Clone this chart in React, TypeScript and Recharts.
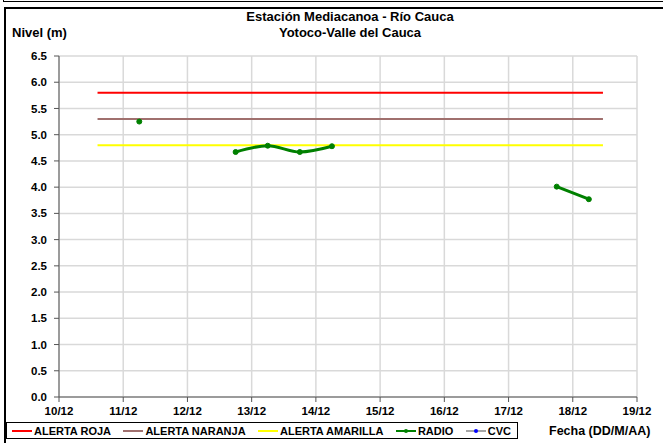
import React from 'react';
import { LineChart, Line, XAxis, YAxis, CartesianGrid } from 'recharts';

const dayLabels = ['10/12', '11/12', '12/12', '13/12', '14/12', '15/12', '16/12', '17/12', '18/12', '19/12'];
const dayTicks = [0, 1, 2, 3, 4, 5, 6, 7, 8, 9];
const levelTicks = [0, 0.5, 1, 1.5, 2, 2.5, 3, 3.5, 4, 4.5, 5, 5.5, 6, 6.5];

const alertX = [0.6, 8.47];
const alertaRoja = [5.8, 5.8];
const alertaNaranja = [5.3, 5.3];
const alertaAmarilla = [4.8, 4.8];

const radioX = [1.25, 2, 2.75, 3.25, 3.75, 4.25, 6, 7.75, 8.25];
const radioY: (number | null)[] = [5.25, null, 4.67, 4.79, 4.67, 4.78, null, 4.01, 3.77];

const zip = (xs: number[], ys: (number | null)[]) => xs.map((x, i) => ({ x, y: ys[i] }));

const rojaData = zip(alertX, alertaRoja);
const naranjaData = zip(alertX, alertaNaranja);
const amarillaData = zip(alertX, alertaAmarilla);
const radioData = zip(radioX, radioY);

const FONT = '"Liberation Sans", Arial, sans-serif';

const legendItems = [
  { name: 'ALERTA ROJA', color: '#ff0000', dot: null as string | null },
  { name: 'ALERTA NARANJA', color: '#a0706e', dot: null },
  { name: 'ALERTA AMARILLA', color: '#ffff00', dot: null },
  { name: 'RADIO', color: '#008000', dot: '#008000' },
  { name: 'CVC', color: '#a6a6a6', dot: '#0000ff' },
];

export default function App() {
  return (
    <div style={{ position: 'absolute', left: 0, top: 0, width: 663, height: 443, background: '#fff', fontFamily: FONT, overflow: 'hidden' }}>
      {/* frame */}
      <div style={{ position: 'absolute', left: 3, top: -2, width: 680, height: 4, border: '1px solid #000', boxSizing: 'border-box' }} />
      <div style={{ position: 'absolute', left: 4, top: 7, width: 680, height: 460, borderTop: '2px solid #000', borderLeft: '2px solid #000', boxSizing: 'border-box' }} />
      <LineChart width={663} height={443} margin={{ top: 56, right: 26, left: 9, bottom: 22 }}>
        <CartesianGrid stroke="#d9d9d9" strokeWidth={1.5} />
        <XAxis
          dataKey="x"
          type="number"
          domain={[0, 9]}
          ticks={dayTicks}
          tickFormatter={(v: number) => dayLabels[v]}
          allowDuplicatedCategory={false}
          height={24}
          tickSize={5}
          tickMargin={5}
          stroke="#555"
          tick={{ fill: '#000', fontSize: 11.5, fontWeight: 'bold', fontFamily: FONT }}
        />
        <YAxis
          type="number"
          domain={[0, 6.5]}
          ticks={levelTicks}
          tickFormatter={(v: number) => v.toFixed(1)}
          width={50}
          tickSize={5}
          tickMargin={7}
          stroke="#555"
          tick={{ fill: '#000', fontSize: 11.5, fontWeight: 'bold', fontFamily: FONT }}
        />
        <Line data={rojaData} dataKey="y" stroke="#ff0000" strokeWidth={2} dot={false} isAnimationActive={false} />
        <Line data={naranjaData} dataKey="y" stroke="#a0706e" strokeWidth={2} dot={false} isAnimationActive={false} />
        <Line data={amarillaData} dataKey="y" stroke="#ffff00" strokeWidth={2} dot={false} isAnimationActive={false} />
        <Line
          data={radioData}
          dataKey="y"
          type="monotone"
          stroke="#008000"
          strokeWidth={3}
          dot={{ r: 2.5, fill: '#008000', stroke: '#008000', strokeWidth: 1 }}
          isAnimationActive={false}
        />
      </LineChart>
      {/* titles */}
      <div style={{ position: 'absolute', left: 150, width: 400, top: 9, textAlign: 'center', fontSize: 13, fontWeight: 'bold', lineHeight: '16px' }}>
        <div>Estación Mediacanoa - Río Cauca</div>
        <div>Yotoco-Valle del Cauca</div>
      </div>
      <div style={{ position: 'absolute', left: 12, top: 25, fontSize: 13, fontWeight: 'bold' }}>Nivel (m)</div>
      {/* legend */}
      <div style={{ position: 'absolute', left: 6, top: 422, width: 512, height: 17, border: '1px solid #000', boxSizing: 'border-box', display: 'flex', alignItems: 'center', justifyContent: 'space-between', paddingLeft: 5, paddingRight: 6, fontSize: 11, fontWeight: 'bold' }}>
        {legendItems.map((it) => (
          <div key={it.name} style={{ display: 'flex', alignItems: 'center' }}>
            <svg width={20} height={8} style={{ marginRight: 2 }}>
              <line x1={0} y1={4} x2={20} y2={4} stroke={it.color} strokeWidth={2} />
              {it.dot && <circle cx={10} cy={4} r={2} fill={it.dot} />}
            </svg>
            <span>{it.name}</span>
          </div>
        ))}
      </div>
      <div style={{ position: 'absolute', left: 549, top: 424, fontSize: 12.5, fontWeight: 'bold' }}>Fecha (DD/M/AA)</div>
    </div>
  );
}
